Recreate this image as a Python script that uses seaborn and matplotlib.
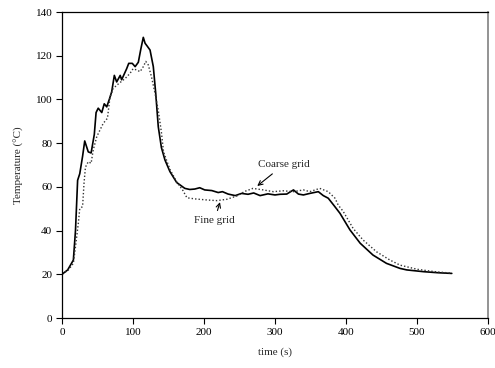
import matplotlib
matplotlib.use("Agg")
import matplotlib.pyplot as plt
import seaborn as sns
import pandas as pd

# Solid curve
t_solid = [0, 8, 16, 19, 22, 25, 27, 29, 32, 35, 37, 41, 45.5, 48, 51, 53.5, 56, 59.5, 63, 66.6,
           70, 73.7, 77, 82, 84, 91, 94, 99, 103, 107.5, 111, 114.5, 117, 120, 124, 128.6, 132,
           135.6, 140, 145, 152, 161.5, 173, 180, 187, 194, 201, 211, 220, 226, 234, 244, 253,
           262, 270, 279, 290, 300, 307, 316.5, 326, 333, 340, 349, 361, 368, 375, 383, 391.5,
           405.6, 420, 438, 457, 476, 485.5, 509, 530, 549]
T_solid = [20, 22, 26.5, 40, 63, 66, 70, 74, 81, 78, 76, 75.5, 84, 94, 96, 95, 94, 98, 96.6, 100,
           103.5, 111, 108, 111, 109, 114, 116.5, 116.5, 115, 117, 123, 128.4, 125.7, 124.4, 122.6,
           115, 102.8, 87.5, 78, 72.3, 67, 62, 59.3, 58.8, 59, 59.6, 58.6, 58.3, 57.4, 57.8, 56.7,
           56, 57, 56.6, 57.2, 56, 56.8, 56.3, 56.6, 56.7, 58.6, 56.7, 56.3, 57, 57.8, 56, 54.8,
           51.5, 47.9, 40.3, 34.2, 28.8, 25, 22.7, 22, 21.2, 20.7, 20.4]

# Dotted curve
t_dotted = [0, 9, 16, 19, 23, 25, 29, 31, 33, 37, 41, 44, 49, 53.5, 58, 64, 67.6, 72, 79, 89, 96,
            100, 105, 110, 114.5, 118, 121.5, 126, 131, 135.6, 140, 143, 152, 162, 170, 176, 187,
            204, 218, 232, 246, 258, 269, 283.5, 297.6, 311.7, 326, 340, 349, 363, 375, 384.5,
            389, 396, 410, 424, 443, 462, 476, 500, 525, 549]
T_dotted = [20, 22, 25, 32.6, 43.4, 50, 51, 61.6, 69, 71.5, 70.8, 76.9, 83, 86, 89, 91.4, 101, 105,
            107, 109.6, 112, 114, 113.5, 112.7, 115, 117.4, 115.8, 110.4, 102.8, 95, 85, 76, 68,
            62, 58.5, 55, 54.5, 54, 53.7, 54.3, 55.8, 58, 59.3, 58.6, 57.8, 58.2, 57.8, 58.6, 57.8,
            59.3, 57.8, 54.8, 51.7, 48.8, 41, 35.7, 30.3, 26.5, 24.2, 22.3, 21.2, 20.5]

x_ticks = [0, 100, 200, 300, 400, 500, 600]
y_ticks = [0, 20, 40, 60, 80, 100, 120, 140]

sns.set_style("white")
plt.rcParams['font.family'] = ['Liberation Serif', 'DejaVu Serif']

fig = plt.figure(figsize=(4.95, 3.68), dpi=100)
ax = fig.add_axes([62/495, 1-318/368, (488-62)/495, (318-12)/368])

df_s = pd.DataFrame({"t": t_solid, "T": T_solid})
df_d = pd.DataFrame({"t": t_dotted, "T": T_dotted})
sns.lineplot(data=df_s, x="t", y="T", ax=ax, color="black", linewidth=1.2, sort=False)
sns.lineplot(data=df_d, x="t", y="T", ax=ax, color="#333333", linewidth=1.0,
             linestyle=(0, (1, 1.5)), sort=False)

ax.set_xlim(0, 600)
ax.set_ylim(0, 140)
ax.set_xticks(x_ticks)
ax.set_yticks(y_ticks)
ax.tick_params(direction="out", length=4, width=0.8, labelsize=8, colors="black",
               bottom=True, left=True, pad=3)
for s in ["left", "bottom", "top"]:
    ax.spines[s].set_color("black")
    ax.spines[s].set_linewidth(0.9)
ax.spines["right"].set_color("#808080")
ax.spines["right"].set_linewidth(1.2)

ax.set_xlabel("time (s)", fontsize=8, labelpad=8)
ax.set_ylabel("Temperature (\u00b0C)", fontsize=8, labelpad=8)

ax.annotate("Coarse grid", xy=(275, 60.4), xytext=(313, 70.3), fontsize=8,
            ha="center", va="center",
            arrowprops=dict(arrowstyle="->", color="black", lw=0.8, shrinkA=2, shrinkB=0))
ax.annotate("Fine grid", xy=(222.5, 53), xytext=(214.5, 44.4), fontsize=8,
            ha="center", va="center",
            arrowprops=dict(arrowstyle="->", color="black", lw=0.8, shrinkA=2, shrinkB=0))

fig.savefig("out.png", dpi=100)
